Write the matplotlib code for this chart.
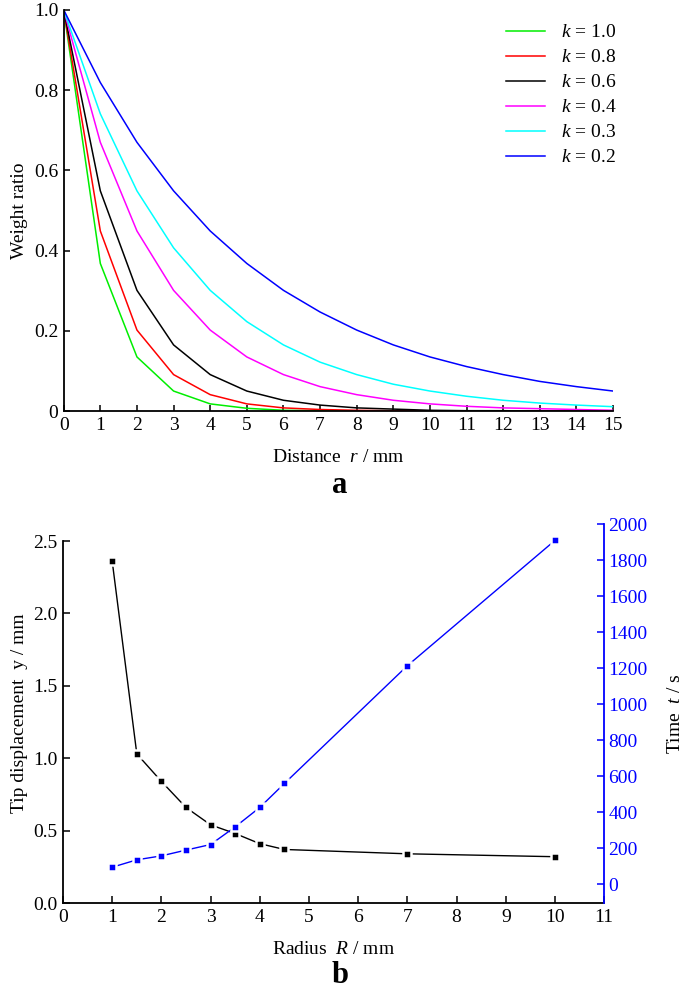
import matplotlib
matplotlib.use('Agg')
import matplotlib.pyplot as plt

plt.rcParams['font.family'] = ['Liberation Serif', 'DejaVu Serif']
plt.rcParams['mathtext.fontset'] = 'custom'
plt.rcParams['mathtext.rm'] = 'Liberation Serif'
plt.rcParams['mathtext.it'] = 'Liberation Serif:italic'

# --- panel a: weight ratio vs distance
r = list(range(16))
k_labels = ['1.0', '0.8', '0.6', '0.4', '0.3', '0.2']
k_colors = ['#00ee00', '#ff0000', '#000000', '#ff00ff', '#00ffff', '#0000ff']
w_k10 = [1.0, 0.368, 0.135, 0.050, 0.018, 0.007, 0.002, 0.001, 0.0, 0.0, 0.0, 0.0, 0.0, 0.0, 0.0, 0.0]
w_k08 = [1.0, 0.449, 0.202, 0.091, 0.041, 0.018, 0.008, 0.004, 0.002, 0.001, 0.0, 0.0, 0.0, 0.0, 0.0, 0.0]
w_k06 = [1.0, 0.549, 0.301, 0.165, 0.091, 0.050, 0.027, 0.015, 0.008, 0.005, 0.002, 0.001, 0.001, 0.0, 0.0, 0.0]
w_k04 = [1.0, 0.670, 0.449, 0.301, 0.202, 0.135, 0.091, 0.061, 0.041, 0.027, 0.018, 0.012, 0.008, 0.006, 0.004, 0.002]
w_k03 = [1.0, 0.741, 0.549, 0.407, 0.301, 0.223, 0.165, 0.122, 0.091, 0.067, 0.050, 0.037, 0.027, 0.020, 0.015, 0.011]
w_k02 = [1.0, 0.819, 0.670, 0.549, 0.449, 0.368, 0.301, 0.247, 0.202, 0.165, 0.135, 0.111, 0.091, 0.074, 0.061, 0.050]
weights = [w_k10, w_k08, w_k06, w_k04, w_k03, w_k02]

# --- panel b: tip displacement and time vs radius
radius = [1, 1.5, 2, 2.5, 3, 3.5, 4, 4.5, 7, 10]
tip_disp = [2.36, 1.03, 0.84, 0.66, 0.54, 0.48, 0.41, 0.37, 0.34, 0.32]
time_s = [94, 135, 157, 189, 220, 318, 426, 559, 1213, 1909]

fs = 14
fig = plt.figure(figsize=(6.85, 9.93), dpi=100)

ax1 = fig.add_axes([0.093, 0.586, 0.802, 0.404])
for w, lab, c in zip(weights, k_labels, k_colors):
    ax1.plot(r, w, color=c, lw=1.1, label=r'$\it{k}$ = ' + lab)
ax1.set_xlim(0, 15)
ax1.set_ylim(0, 1.0)
ax1.set_xticks(range(16))
ax1.set_yticks([0, 0.2, 0.4, 0.6, 0.8, 1.0])
ax1.set_yticklabels(['0', '0.2', '0.4', '0.6', '0.8', '1.0'])
ax1.spines['top'].set_visible(False)
ax1.spines['right'].set_visible(False)
for s in ('left', 'bottom'):
    ax1.spines[s].set_linewidth(1.3)
ax1.tick_params(direction='in', length=4, width=1.1, labelsize=fs, pad=4)
ax1.set_xlabel(r'Distance  $\it{r}$ / mm', fontsize=fs, labelpad=11)
ax1.set_ylabel('Weight ratio', fontsize=fs, labelpad=4)
ax1.legend(loc='upper right', bbox_to_anchor=(1.02, 0.985), frameon=False,
           fontsize=fs, handlelength=2.0, handletextpad=0.8,
           labelspacing=0.38, borderaxespad=0)
fig.text(0.496, 0.511, 'a', fontsize=22, fontweight='bold', ha='center', va='center')

ax2 = fig.add_axes([0.092, 0.0906, 0.79, 0.3817])
ax2.plot(radius, tip_disp, color='k', lw=1.0, marker='s', ms=5.8,
         mfc='k', mec='white', mew=1.8)
ax2.set_xlim(0, 11)
ax2.set_ylim(0, 2.618)
ax2.set_xticks(range(12))
ax2.set_yticks([0, 0.5, 1.0, 1.5, 2.0, 2.5])
ax2.set_yticklabels(['0.0', '0.5', '1.0', '1.5', '2.0', '2.5'])
ax2.spines['top'].set_visible(False)
ax2.spines['right'].set_visible(False)
ax2.spines['left'].set_bounds(0, 2.5)
for s in ('left', 'bottom'):
    ax2.spines[s].set_linewidth(1.3)
ax2.tick_params(direction='in', length=5, width=1.1, labelsize=fs, pad=4)
ax2.set_xlabel(r'Radius  $\it{R}$ / mm', fontsize=fs, labelpad=11)
ax2.set_ylabel(r'Tip displacement  y / mm', fontsize=fs, labelpad=4)

ax3 = ax2.twinx()
ax3.plot(radius, time_s, color='#0000ff', lw=1.0, marker='s', ms=5.8,
         mfc='#0000ff', mec='white', mew=1.8)
ax3.set_ylim(-105, 2000)
ax3.set_yticks(range(0, 2001, 200))
for s in ('top', 'left', 'bottom'):
    ax3.spines[s].set_visible(False)
ax3.spines['right'].set_color('#0000ff')
ax3.spines['right'].set_linewidth(1.3)
ax3.tick_params(direction='in', length=5, width=1.1, labelsize=fs,
                colors='#0000ff', pad=3)
ax3.set_ylabel(r'Time  $\it{t}$ / s', fontsize=fs, labelpad=14)
fig.text(0.496, 0.018, 'b', fontsize=22, fontweight='bold', ha='center', va='center')

fig.savefig('out.png', dpi=100)
